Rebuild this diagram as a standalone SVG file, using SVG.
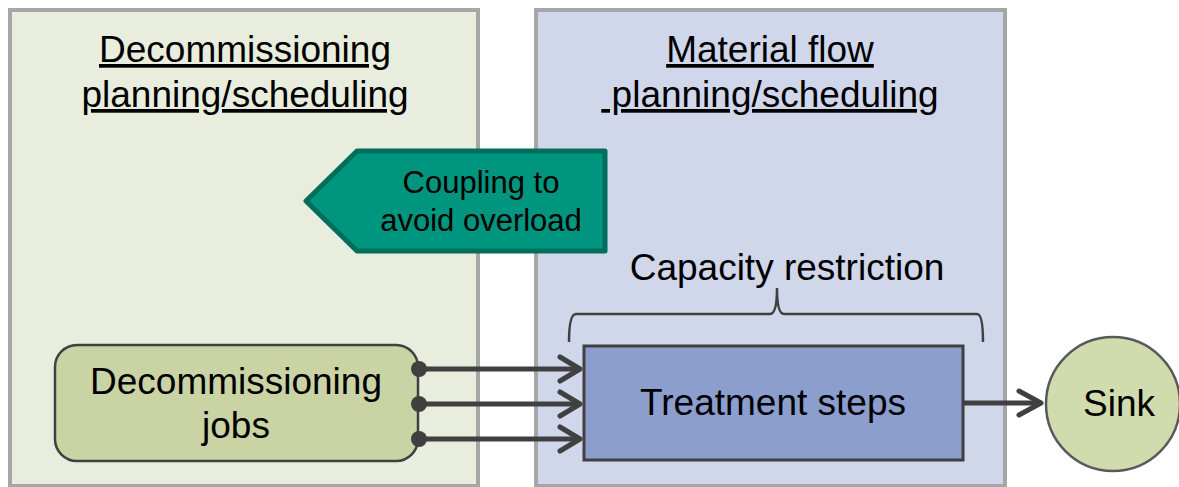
<svg xmlns="http://www.w3.org/2000/svg" width="1179" height="487" viewBox="0 0 1179 487">
<style>
text{font-family:"Liberation Sans",Arial,sans-serif;fill:#000;text-anchor:middle}
.panel{stroke:#A6A6A6;stroke-width:4}
.title{font-size:37px;text-decoration:underline}
.lbl{font-size:37px}
.conn{stroke:#404040;stroke-width:5;fill:none}
.head{stroke:#404040;stroke-width:5;fill:none;stroke-linecap:round;stroke-linejoin:round}
</style>
<rect width="1179" height="487" fill="#fff"/>
<g id="panel-decommissioning">
<rect class="panel" x="10" y="10" width="468" height="476" fill="#E9EDDD"/>
<text class="title" x="245" y="62">Decommissioning</text>
<text class="title" x="245" y="107">planning/scheduling</text>
</g>
<g id="panel-material">
<rect class="panel" x="536" y="10" width="469" height="476" fill="#D1D7EA"/>
<text class="title" x="770" y="62">Material flow</text>
<text class="title" x="770" y="107" xml:space="preserve"> planning/scheduling</text>
</g>
<g id="coupling">
<polygon points="306,201 357,151 605,151 605,251 357,251" fill="#00957E" stroke="#006E5C" stroke-width="5" stroke-linejoin="round"/>
<text x="481" y="193" style="font-size:31px">Coupling to</text>
<text x="481" y="231" style="font-size:31px">avoid overload</text>
</g>
<g id="capacity">
<text class="lbl" x="787" y="280">Capacity restriction</text>
<path d="M569,342 Q569,314 576,314 L770,314 Q777,314 777,288 Q777,314 784,314 L977,314 Q983,314 983,342" fill="none" stroke="#404040" stroke-width="2.5"/>
</g>
<g id="jobs">
<rect x="55" y="345" width="363" height="116" rx="22" fill="#C9D3A3" stroke="#404040" stroke-width="2.5"/>
<text class="lbl" x="236" y="394">Decommissioning</text>
<text class="lbl" x="236" y="438">jobs</text>
</g>
<g id="treatment">
<rect x="584" y="346" width="379" height="114" fill="#8C9ECD" stroke="#404040" stroke-width="3"/>
<text class="lbl" x="773" y="415">Treatment steps</text>
</g>
<g id="sink">
<circle cx="1113" cy="404" r="67" fill="#D0DBAE" stroke="#595959" stroke-width="2.5"/>
<text class="lbl" x="1119" y="416">Sink</text>
</g>
<g id="connectors">
<line class="conn" x1="419" y1="369" x2="579" y2="369"/>
<line class="conn" x1="419" y1="404" x2="579" y2="404"/>
<line class="conn" x1="419" y1="439" x2="579" y2="439"/>
<circle cx="419" cy="369" r="8" fill="#404040"/>
<circle cx="419" cy="404" r="8" fill="#404040"/>
<circle cx="419" cy="439" r="8" fill="#404040"/>
<polyline class="head" points="560,357 580,369 560,381"/>
<polyline class="head" points="560,392 580,404 560,416"/>
<polyline class="head" points="560,427 580,439 560,451"/>
<line class="conn" x1="963" y1="403" x2="1040" y2="403"/>
<polyline class="head" points="1019,391 1041,403 1019,415"/>
</g>
</svg>
